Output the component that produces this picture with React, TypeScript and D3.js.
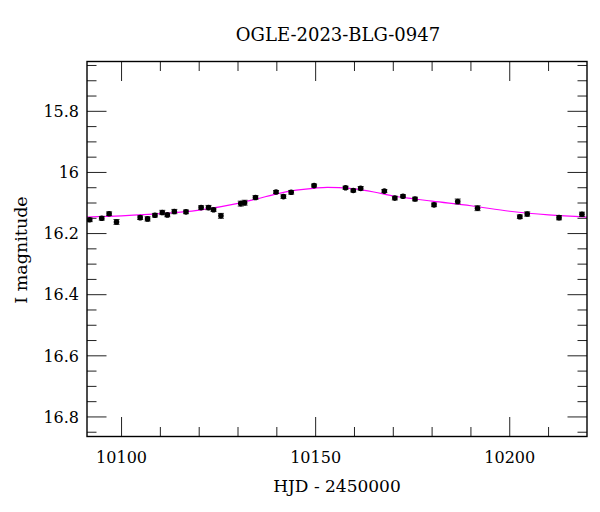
import React from "react";
import * as d3 from "d3";

const TITLE = "OGLE-2023-BLG-0947";
const X_LABEL = "HJD - 2450000";
const Y_LABEL = "I magnitude";

const hjd = [
  10091.8, 10094.9, 10096.8, 10098.7, 10104.8, 10106.7, 10108.6, 10110.5, 10111.8,
  10113.6, 10116.6, 10120.5, 10122.4, 10123.7, 10125.6, 10130.7, 10131.7, 10134.5,
  10139.8, 10141.7, 10143.7, 10149.6, 10157.7, 10159.7, 10161.6, 10167.7, 10170.4,
  10172.5, 10175.6, 10180.5, 10186.6, 10191.7, 10202.6, 10204.5, 10212.7, 10218.6,
];
const mag = [
  16.155, 16.150, 16.135, 16.162, 16.148, 16.152, 16.140, 16.131, 16.139,
  16.128, 16.129, 16.115, 16.115, 16.122, 16.142, 16.102, 16.099, 16.082,
  16.064, 16.079, 16.065, 16.043, 16.050, 16.059, 16.052, 16.061, 16.084,
  16.078, 16.087, 16.106, 16.095, 16.117, 16.145, 16.136, 16.148, 16.137,
];
const magErr = [
  0.006, 0.006, 0.006, 0.008, 0.006, 0.007, 0.006, 0.007, 0.006,
  0.007, 0.006, 0.006, 0.007, 0.006, 0.008, 0.008, 0.008, 0.006,
  0.005, 0.006, 0.006, 0.005, 0.005, 0.005, 0.006, 0.005, 0.006,
  0.005, 0.006, 0.006, 0.008, 0.008, 0.006, 0.007, 0.007, 0.007,
];

const modelT = [
  10091, 10100, 10110, 10120, 10130, 10135, 10140, 10145, 10150, 10153, 10156,
  10160, 10165, 10170, 10175, 10180, 10190, 10200, 10210, 10220,
];
const modelM = [
  16.146, 16.142, 16.135, 16.123, 16.101, 16.086, 16.070, 16.058, 16.051, 16.049, 16.050,
  16.054, 16.064, 16.077, 16.086, 16.094, 16.109, 16.127, 16.139, 16.146,
];

const xMajor = [10100, 10150, 10200];
const yMajor = [15.8, 16, 16.2, 16.4, 16.6, 16.8];

const W = 600;
const H = 512;
const M = { left: 87, right: 587, top: 61.5, bottom: 436.5 };
const FONT = "'DejaVu Serif', serif";

export default function App() {
  const x = d3.scaleLinear().domain([10091.1, 10219.9]).range([M.left, M.right]);
  const y = d3.scaleLinear().domain([15.637, 16.864]).range([M.top, M.bottom]);

  const xMinor = d3.range(10100, 10220, 10).filter((v) => !xMajor.includes(v));
  const yMinor = d3
    .range(15.65, 16.86, 0.05)
    .map((v) => Math.round(v * 100) / 100)
    .filter((v) => !yMajor.some((m) => Math.abs(m - v) < 1e-6));

  const line = d3
    .line<number>()
    .x((_, i) => x(modelT[i]))
    .y((d) => y(d))
    .curve(d3.curveMonotoneX);

  const major = 19.5;
  const minor = 9.5;

  return (
    <svg width={W} height={H} style={{ display: "block", position: "absolute", left: 0, top: 0 }}>
      <rect width={W} height={H} fill="#fff" />
      <defs>
        <clipPath id="plot">
          <rect x={M.left} y={M.top} width={M.right - M.left} height={M.bottom - M.top} />
        </clipPath>
      </defs>
      {/* ticks */}
      <g stroke="#222" strokeWidth={1}>
        {xMajor.map((v) => (
          <g key={"xM" + v}>
            <line x1={x(v)} x2={x(v)} y1={M.bottom} y2={M.bottom - major} />
            <line x1={x(v)} x2={x(v)} y1={M.top} y2={M.top + major} />
          </g>
        ))}
        {xMinor.map((v) => (
          <g key={"xm" + v}>
            <line x1={x(v)} x2={x(v)} y1={M.bottom} y2={M.bottom - minor} />
            <line x1={x(v)} x2={x(v)} y1={M.top} y2={M.top + minor} />
          </g>
        ))}
        {yMajor.map((v) => (
          <g key={"yM" + v}>
            <line x1={M.left} x2={M.left + major} y1={y(v)} y2={y(v)} />
            <line x1={M.right} x2={M.right - major} y1={y(v)} y2={y(v)} />
          </g>
        ))}
        {yMinor.map((v) => (
          <g key={"ym" + v}>
            <line x1={M.left} x2={M.left + minor} y1={y(v)} y2={y(v)} />
            <line x1={M.right} x2={M.right - minor} y1={y(v)} y2={y(v)} />
          </g>
        ))}
      </g>
      {/* model */}
      <g clipPath="url(#plot)">
        <path d={line(modelM) || ""} fill="none" stroke="#ff00ff" strokeWidth={1.2} />
      </g>
      {/* data */}
      <g clipPath="url(#plot)">
        {hjd.map((t, i) => {
          const cx = x(t);
          const cy = y(mag[i]);
          const y1 = y(mag[i] - magErr[i]);
          const y2 = y(mag[i] + magErr[i]);
          return (
            <g key={"p" + i}>
              <line x1={cx} x2={cx} y1={y1} y2={y2} stroke="#333" strokeWidth={1} />
              <line x1={cx - 3} x2={cx + 3} y1={y1} y2={y1} stroke="#333" strokeWidth={1} />
              <line x1={cx - 3} x2={cx + 3} y1={y2} y2={y2} stroke="#333" strokeWidth={1} />
              <circle cx={cx} cy={cy} r={2.8} fill="#000" />
            </g>
          );
        })}
      </g>
      {/* frame */}
      <rect
        x={M.left}
        y={M.top}
        width={M.right - M.left}
        height={M.bottom - M.top}
        fill="none"
        stroke="#000"
        strokeWidth={1.4}
      />
      {/* tick labels */}
      <g fontFamily={FONT} fontSize={16} fill="#000">
        {xMajor.map((v) => (
          <text key={"xl" + v} x={x(v)} y={463} textAnchor="middle">
            {v}
          </text>
        ))}
        {yMajor.map((v) => (
          <text key={"yl" + v} x={79} y={y(v)} dy="0.36em" textAnchor="end">
            {String(v)}
          </text>
        ))}
      </g>
      <text x={337} y={492} fontFamily={FONT} fontSize={17} textAnchor="middle">
        {X_LABEL}
      </text>
      <text
        transform={`translate(27,250) rotate(-90)`}
        fontFamily={FONT}
        fontSize={17.5}
        textAnchor="middle"
      >
        {Y_LABEL}
      </text>
      <text x={338} y={41} fontFamily={FONT} fontSize={18} textAnchor="middle">
        {TITLE}
      </text>
    </svg>
  );
}
